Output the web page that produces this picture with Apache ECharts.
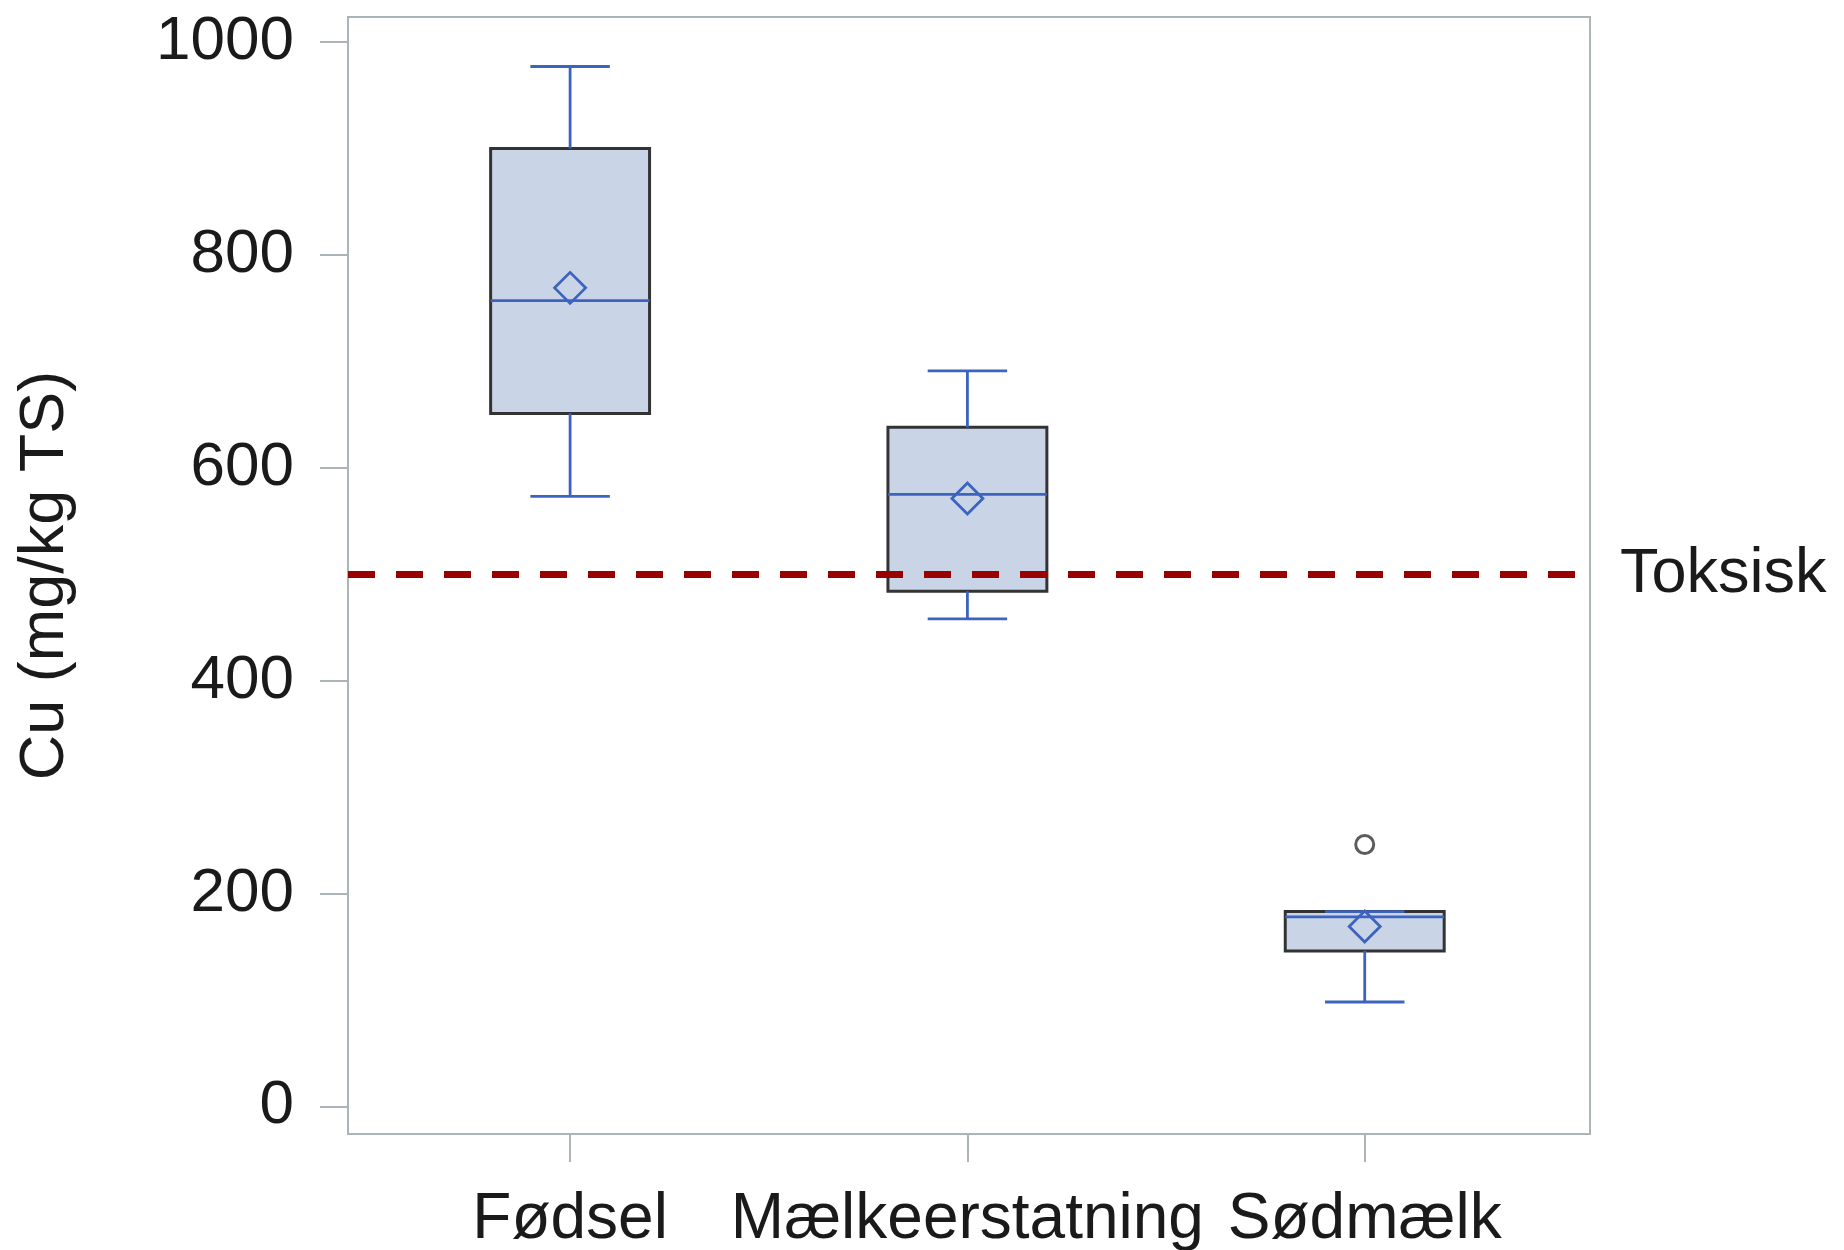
<!DOCTYPE html>
<html>
<head>
<meta charset="utf-8">
<title>Cu (mg/kg TS)</title>
<script src="https://cdn.jsdelivr.net/npm/echarts@6/dist/echarts.min.js"></script>
<style>
  html, body { margin: 0; padding: 0; background: #ffffff; }
  #chart { width: 1844px; height: 1250px; }
</style>
</head>
<body>
<div id="chart"></div>
<script>
// Groups along the x axis
const categories = ['Fødsel', 'Mælkeerstatning', 'Sødmælk'];

// Box statistics per group, in mg/kg TS
const whiskerLow  = [573, 458, 98];
const quartile1   = [651, 484, 146];
const medians     = [757, 575, 178];
const quartile3   = [900, 638, 183];
const whiskerHigh = [977, 691, 183];
const means       = [769, 571, 169];

// Outlying observations: [group index, value]
const outliers = [[2, 246]];

// Toxic threshold
const toxicLevel = 500;
const toxicLabel = 'Toksisk';

// Y axis tick values
const yTicks = [0, 200, 400, 600, 800, 1000];

const FONT = '"Liberation Sans", Arial, Helvetica, sans-serif';
const FRAME = '#adb4b8';
const BLUE = '#3d63c0';
const BOX_FILL = '#c9d5e6';
const BOX_EDGE = '#333333';
const TEXT = '#1a1a1a';
const BOX_HALF = 0.2;   // half box width, in x-axis units
const CAP_HALF = 0.1;   // half whisker-cap width

const boxData = categories.map((c, i) => [
  i + 1, whiskerLow[i], quartile1[i], medians[i], quartile3[i], whiskerHigh[i], means[i]
]);
const outlierData = outliers.map(o => [o[0] + 1, o[1]]);

function renderBox(params, api) {
  const x = api.value(0);
  const vMin = api.value(1), q1 = api.value(2), med = api.value(3),
        q3 = api.value(4), vMax = api.value(5), mean = api.value(6);
  const pL = api.coord([x - BOX_HALF, q3]);
  const pR = api.coord([x + BOX_HALF, q1]);
  const cMin = api.coord([x, vMin]);
  const cMax = api.coord([x, vMax]);
  const cQ1 = api.coord([x, q1]);
  const cQ3 = api.coord([x, q3]);
  const cMed = api.coord([x, med]);
  const cMean = api.coord([x, mean]);
  const capL = api.coord([x - CAP_HALF, 0])[0];
  const capR = api.coord([x + CAP_HALF, 0])[0];
  const lineStyle = { stroke: BLUE, lineWidth: 2.8, fill: null };
  const d = 15.5;
  return {
    type: 'group',
    children: [
      { type: 'rect', shape: { x: pL[0], y: pL[1], width: pR[0] - pL[0], height: pR[1] - pL[1] },
        style: { fill: BOX_FILL, stroke: BOX_EDGE, lineWidth: 3 } },
      { type: 'line', shape: { x1: cQ3[0], y1: cQ3[1], x2: cMax[0], y2: cMax[1] }, style: lineStyle },
      { type: 'line', shape: { x1: cQ1[0], y1: cQ1[1], x2: cMin[0], y2: cMin[1] }, style: lineStyle },
      { type: 'line', shape: { x1: capL, y1: cMax[1], x2: capR, y2: cMax[1] }, style: lineStyle },
      { type: 'line', shape: { x1: capL, y1: cMin[1], x2: capR, y2: cMin[1] }, style: lineStyle },
      { type: 'line', shape: { x1: pL[0], y1: cMed[1], x2: pR[0], y2: cMed[1] }, style: lineStyle },
      { type: 'polygon', shape: { points: [
          [cMean[0], cMean[1] - d], [cMean[0] + d, cMean[1]],
          [cMean[0], cMean[1] + d], [cMean[0] - d, cMean[1]] ] },
        style: { stroke: BLUE, lineWidth: 2.8, fill: null } }
    ]
  };
}

const chart = echarts.init(document.getElementById('chart'), null, { renderer: 'canvas' });

chart.setOption({
  animation: false,
  backgroundColor: '#ffffff',
  grid: {
    left: 348, right: 254, top: 17, bottom: 116,
    show: true, borderColor: FRAME, borderWidth: 2, backgroundColor: 'transparent',
    outerBoundsMode: 'none'
  },
  xAxis: {
    type: 'value',
    position: 'bottom',
    min: 0.441, max: 3.567,
    splitLine: { show: false },
    axisLine: { show: false, onZero: false },
    axisTick: { show: true, inside: false, length: 28, customValues: [1, 2, 3],
      lineStyle: { color: FRAME, width: 2 } },
    axisLabel: { show: true, customValues: [1, 2, 3], margin: 54,
      formatter: v => categories[Math.round(v) - 1] || '',
      fontFamily: FONT, fontSize: 64, color: TEXT }
  },
  yAxis: {
    type: 'value',
    position: 'left',
    min: -26, max: 1023.5,
    name: 'Cu (mg/kg TS)',
    nameLocation: 'middle',
    nameRotate: 90,
    nameGap: 271,
    nameTextStyle: { fontFamily: FONT, fontSize: 63, color: TEXT },
    splitLine: { show: false },
    axisLine: { show: false, onZero: false },
    axisTick: { show: true, inside: false, length: 28, customValues: yTicks,
      lineStyle: { color: FRAME, width: 2 } },
    axisLabel: { show: true, customValues: yTicks, margin: 54,
      formatter: v => String(v),
      fontFamily: FONT, fontSize: 62, color: TEXT }
  },
  series: [
    {
      type: 'custom',
      name: 'Cu',
      renderItem: renderBox,
      data: boxData,
      encode: { x: 0, y: [1, 2, 3, 4, 5, 6] },
      z: 2,
      markLine: {
        silent: true,
        symbol: ['none', 'none'],
        lineStyle: { color: '#990000', width: 7, type: [27, 21], dashOffset: 0 },
        label: {
          show: true, position: 'end', distance: 30,
          formatter: toxicLabel,
          fontFamily: FONT, fontSize: 63, color: TEXT
        },
        data: [{ yAxis: toxicLevel }],
        z: 5
      }
    },
    {
      type: 'scatter',
      name: 'Outlier',
      data: outlierData,
      symbol: 'circle',
      symbolSize: 18,
      itemStyle: { color: 'transparent', borderColor: '#333333', borderWidth: 3 },
      z: 3
    }
  ]
});
</script>
</body>
</html>
